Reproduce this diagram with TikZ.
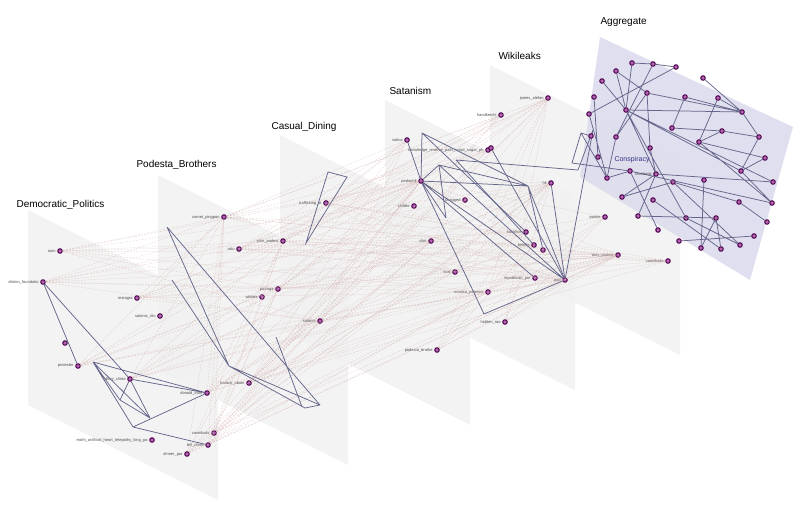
\documentclass[tikz,border=0pt]{standalone}
\usepackage{fontspec}
\setmainfont{Liberation Sans}
\definecolor{aggc}{RGB}{220,220,237}
\begin{document}
\begin{tikzpicture}[x=1pt,y=-1pt,
  plane/.style={fill=green!4!gray!12,draw=none,opacity=0.8},
  aplane/.style={fill=aggc,draw=none,opacity=0.9},
  title/.style={font=\fontsize{10}{12}\selectfont,anchor=west},
  nd/.style={circle,draw=violet!60!black,line width=1pt,fill=violet!60,inner sep=0pt,minimum size=4.5pt},
  lb/.style={font=\fontsize{4}{4.5}\selectfont,text=black!70,anchor=east,inner sep=1.5pt},
  intra/.style={draw=blue!25!black!60,line width=0.75pt},
  inter/.style={draw=red!30!gray!45,line width=0.25pt,dashed,dash pattern=on 2pt off 1.2pt,opacity=0.7}]
\useasboundingbox (0,0) rectangle (800,504);
% planes
\foreach \L/\T in {28/210,158/175,280/135,385/100,490/65}{
  \fill[plane] (\L,\T) -- (\L+190,\T+95) -- (\L+190,\T+290) -- (\L,\T+195) -- cycle;}
\fill[aplane] (600,37) -- (793,127) -- (750,280) -- (580,177) -- cycle;
% titles
\node[title] at (13,205) {Democratic\_Politics};
\node[title] at (133,165) {Podesta\_Brothers};
\node[title] at (268,127) {Casual\_Dining};
\node[title] at (386,91) {Satanism};
\node[title] at (495,56) {Wikileaks};
\node[title] at (597,22) {Aggregate};
% layer nodes
\foreach \n/\x/\y/\t in {
 tunn/60/251/tunn, clf/43/282/clinton\_foundatio, insta/137/298/instagra, satr/160/316/satanic\_ritu,
 dx/65/343/{}, prot/78/366/protester, hill/130/379/hillary\_clinto, don/207/393/donald\_trum,
 earth/152/440/earth\_artificial\_heart\_telepathy\_king\_pa, canna/214/433/cannibalis, bill/208/445/bill\_clinto,
 dinn/187/454/dinner\_par,
 comet/224/217/comet\_pingpon, john/283/241/john\_podest, artu/239/249/artu, pizz/278/289/pizzaga,
 wiki/262/297/wikilea, satn/320/321/satanis, obam/249/383/barack\_obam,
 traf/326/203/trafficking\_st,
 vat/407/140/vatica, know/488/150/knowledge\_reserve\_path\_script\_sugar\_ph, ped/421/181/pedophil,
 chid/414/206/childre, clin/431/241/clint, scal/455/272/scal, mon/488/292/monica\_petersei,
 hid/505/322/hidden\_roo, podb/437/350/podesta\_brothe, hand/501/115/handkerchi, jam/548/98/james\_alefan,
 know2/491/148/{}, hil/551/183/hil, shag/465/200/shagged, sac/526/232/sacrifice, bel/534/245/beliefs,
 bel2/543/250/{}, rep/535/278/republican\_par, pod/565/280/pod, paint/605/217/painte, tony/618/255/tony\_podest,
 cannb/668/261/cannibalis}{
 \node[nd] (\n) at (\x,\y) {};
 \node[lb] at (\n.west) {\t};}
% inter-layer dashed links
\foreach \a in {tunn,clf,insta,hill,don,prot,bill,canna,dinn}{
 \foreach \b in {comet,john,pizz,satn,ped,clin,hil,tony,mon}{
  \draw[inter] (\a) -- (\b);}}
\foreach \a in {comet,john,artu,pizz,satn,obam,traf}{
 \foreach \b in {vat,ped,scal,hand,jam,know,sac,pod,tony,cannb}{
  \draw[inter] (\a) -- (\b);}}
\foreach \a in {ped,clin,scal,mon,hid,podb}{
 \foreach \b in {jam,hil,bel,pod,paint,tony}{
  \draw[inter] (\a) -- (\b);}}
% Democratic intra
\coordinate (d1) at (93,362); \coordinate (d2) at (150,418); \coordinate (d3) at (133,427);
\coordinate (d4) at (120,400);
\draw[intra] (clf) -- (prot) (clf) -- (hill) (d1) -- (don) (d1) -- (d2) (d1) -- (d3)
 (hill) -- (d4) (hill) -- (d2) (hill) -- (don) (d3) -- (don) (d3) -- (bill) (d1) -- (d4) -- (d2);
% Podesta intra
\coordinate (p1) at (167,227); \coordinate (p2) at (229,366); \coordinate (p3) at (305,408);
\coordinate (p4) at (320,405); \coordinate (p5) at (172,280); \coordinate (p6) at (276,337);
\coordinate (p7) at (302,407);
\draw[intra] (p1) -- (p2) -- (p3) (p1) -- (p4) (p2) -- (p4) (p6) -- (p7) (p5) -- (p2) (p3) -- (p4);
% Casual intra
\coordinate (c1) at (328,172); \coordinate (c2) at (347,177); \coordinate (c3) at (306,243);
\draw[intra] (c1) -- (c2) -- (c3) -- cycle;
% Satanism intra
\coordinate (s1) at (422,133); \coordinate (s2) at (528,186); \coordinate (s3) at (439,165);
\coordinate (s4) at (446,218); \coordinate (s5) at (484,314);
\draw[intra] (s1) -- (s2) (ped) -- (s2) (s1) -- (ped) (s3) -- (s2) (s3) -- (s4) (ped) -- (s4)
 (s3) -- (ped) (vat) -- (ped) (ped) -- (s5) (s5) -- (pod) (s2) -- (pod) (ped) -- (pod)
 (s3) -- (pod) (ped) -- (rep) (s1) -- (sac) (s2) -- (bel2);
% Wikileaks intra
\coordinate (w1) at (456,160); \coordinate (w2) at (578,170); \coordinate (w3) at (593,130);
\draw[intra] (w1) -- (w2) (w2) -- (w3) (w3) -- (pod) (w1) -- (bel) (know2) -- (pod) (hil) -- (pod);
% Aggregate nodes
\foreach \n/\x/\y in {a1/632/63,a2/653/64,a3/676/67,a4/616/71,a5/703/78,a6/602/81,a7/647/93,a8/685/97,
 a9/594/97,a10/718/98,a11/626/110,a12/742/112,a13/589/114,a14/672/128,a15/722/131,a16/616/137,a17/591/136,
 a18/759/137,a19/699/142,a20/650/148,a21/598/157,a22/765/158,a23/630/171,a24/656/174,a25/741/171,
 a26/607/178,a27/673/182,a28/704/180,a29/773/182,a30/622/197,a31/653/200,a32/739/202,a33/772/203,
 a34/638/216,a35/686/218,a36/716/218,a37/767/222,a38/658/230,a39/754/236,a40/679/241,a41/701/248,
 a42/721/249,a43/740/245}{
 \node[nd] (\n) at (\x,\y) {};}
\coordinate (g1) at (581,133); \coordinate (g2) at (572,163);
\draw[intra] (a1) -- (a2) -- (a3) (a1) -- (a11) (a4) -- (a7) (a4) -- (a11) (a6) -- (a11) (a9) -- (a21)
 (a7) -- (a12) (a7) -- (a20) (a8) -- (a14) (a8) -- (a12) (a10) -- (a19) (a10) -- (a12) (a11) -- (a12)
 (a11) -- (a29) (a11) -- (a25) (a11) -- (a35) (a11) -- (a24) (a14) -- (a15) (a15) -- (a18)
 (a15) -- (a19) (a19) -- (a22) (a19) -- (a33) (a12) -- (a18) (a18) -- (a25) (a25) -- (a33)
 (a24) -- (a29) (a23) -- (a38) (a24) -- (a34) (a27) -- (a32) (a27) -- (a30) (a28) -- (a41)
 (a34) -- (a36) (a35) -- (a43) (a36) -- (a41) (a40) -- (a39) (a31) -- (a42) (a22) -- (a25)
 (a16) -- (a26) (a17) -- (g1) -- (g2) -- (a23) (g1) -- (a26) (a26) -- (a23) (a16) -- (a7)
 (a2) -- (a16) (a3) -- (a13) (a23) -- (a33) (a32) -- (a37) (a20) -- (a24) (a5) -- (a12) (a13) -- (a26)
 (a30) -- (a24) (a27) -- (a43) (a36) -- (a42);
\node[font=\fontsize{7}{8}\selectfont,text=blue!40!black!80] at (632,160) {Conspiracy};
\node[lb] at (a24.west) {facebook};
\end{tikzpicture}
\end{document}
